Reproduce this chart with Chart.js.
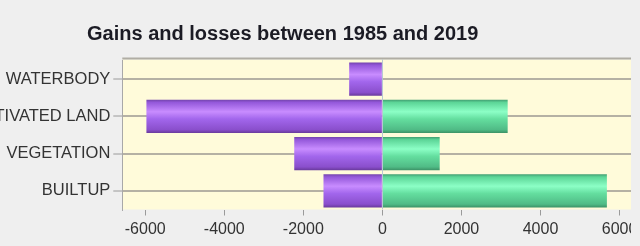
<!DOCTYPE html>
<html>
<head>
<meta charset="utf-8">
<script src="https://cdn.jsdelivr.net/npm/chart.js@4.4.1/dist/chart.umd.min.js"></script>
<style>
  html, body { margin: 0; padding: 0; background: #efefef; }
  #wrap { position: relative; width: 631px; height: 246px; }
</style>
</head>
<body>
<div id="wrap"><canvas id="c"></canvas></div>
<script>
// ---- data ----
const categories = ['WATERBODY', 'CULTIVATED LAND', 'VEGETATION', 'BUILTUP'];
const losses = [-840, -5970, -2230, -1490];
const gains = [0, 3170, 1450, 5680];
const xTickValues = [-6000, -4000, -2000, 0, 2000, 4000, 6000];
const titleText = 'Gains and losses between 1985 and 2019';

const BAR_PCT = 0.89;
const FONT = '"Liberation Sans", Arial, sans-serif';

function barGradient(ctx, stops) {
  const chart = ctx.chart;
  const area = chart.chartArea;
  const y = chart.scales.y;
  if (!area || !y) return stops[0][1];
  const center = y.getPixelForValue(ctx.dataIndex);
  const half = (area.height / categories.length) * BAR_PCT / 2;
  const g = chart.ctx.createLinearGradient(0, center - half, 0, center + half);
  stops.forEach(s => g.addColorStop(s[0], s[1]));
  return g;
}
const purpleStops = [[0, '#7444ad'], [0.08, '#9458da'], [0.36, '#c88cff'], [0.58, '#a266ec'], [0.9, '#8a4fcc'], [1, '#693a9c']];
const greenStops = [[0, '#429f72'], [0.08, '#5cd597'], [0.36, '#8cffc6'], [0.58, '#64de9f'], [0.9, '#50bb86'], [1, '#3c9266']];

const decor = {
  id: 'decor',
  afterLayout(chart) {
    // shift the title block to its place in the reference
    if (chart.titleBlock) { chart.titleBlock.left = 87; }
  },
  beforeDraw(chart) {
    const { ctx, chartArea: a } = chart;
    ctx.save();
    ctx.fillStyle = '#efefef';
    ctx.fillRect(0, 0, chart.width, chart.height);
    ctx.fillStyle = '#fffbda';
    ctx.fillRect(a.left, a.top - 1, a.right - a.left, a.bottom - a.top + 1);
    ctx.strokeStyle = '#b0ada4';
    ctx.lineWidth = 2;
    ctx.beginPath();
    ctx.moveTo(a.left, a.top - 2);
    ctx.lineTo(a.right, a.top - 2);
    ctx.stroke();
    ctx.restore();
  },
  afterDatasetsDraw(chart) {
    const { ctx, chartArea: a } = chart;
    const x0 = Math.round(chart.scales.x.getPixelForValue(0)) + 0.5;
    ctx.save();
    ctx.strokeStyle = 'rgba(175,195,210,0.9)';
    ctx.lineWidth = 1;
    ctx.beginPath();
    ctx.moveTo(x0, a.top - 1);
    ctx.lineTo(x0, a.bottom);
    ctx.stroke();
    ctx.restore();
  }
};

new Chart(document.getElementById('c'), {
  type: 'bar',
  data: {
    labels: categories,
    datasets: [
      { label: 'Losses', data: losses, backgroundColor: c => barGradient(c, purpleStops), borderWidth: 0, barPercentage: BAR_PCT, categoryPercentage: 1 },
      { label: 'Gains', data: gains, backgroundColor: c => barGradient(c, greenStops), borderWidth: 0, barPercentage: BAR_PCT, categoryPercentage: 1 }
    ]
  },
  options: {
    indexAxis: 'y',
    responsive: true,
    maintainAspectRatio: false,
    animation: false,
    layout: { padding: { left: 0, right: 0, top: 0, bottom: 0 } },
    plugins: {
      legend: { display: false },
      tooltip: { enabled: false },
      title: {
        display: true,
        text: titleText,
        align: 'start',
        color: '#1b1b24',
        font: { family: FONT, size: 20, weight: 'bold' },
        padding: { top: 22.8, bottom: 13.7 }
      }
    },
    scales: {
      x: {
        stacked: true,
        min: -6580,
        max: 6290,
        afterBuildTicks: s => { s.ticks = xTickValues.map(v => ({ value: v })); },
        afterFit: s => { s.height = 36.5; s.paddingRight = 0; s.paddingLeft = 0; },
        ticks: {
          callback: v => String(v),
          color: '#333333',
          font: { family: FONT, size: 16 },
          padding: 4,
          maxRotation: 0,
          autoSkip: false
        },
        grid: { drawOnChartArea: false, drawTicks: true, tickLength: 6, tickColor: '#9a9a9a', tickWidth: 1 },
        border: { display: false }
      },
      y: {
        stacked: true,
        afterFit: s => { s.width = 122.3; },
        ticks: {
          color: '#333333',
          font: { family: FONT, size: 16.5 },
          padding: 3
        },
        grid: { offset: false, color: '#b5b1a4', lineWidth: 2, tickLength: 9, tickColor: '#9a9a9a', tickWidth: 1 },
        border: { display: true, color: '#a8a8a8', width: 1 }
      }
    }
  },
  plugins: [decor]
});
</script>
</body>
</html>
